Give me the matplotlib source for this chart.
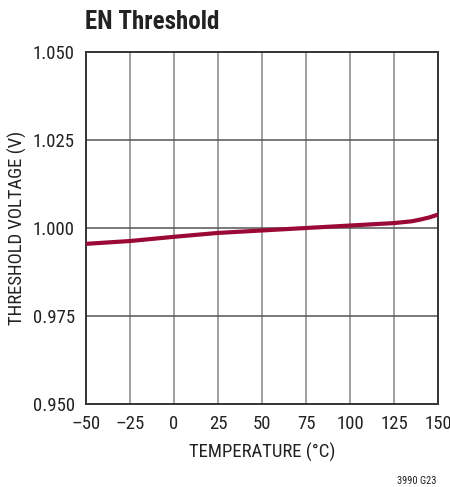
import numpy as np
import matplotlib
matplotlib.use('agg')
import matplotlib.pyplot as plt
from matplotlib import font_manager
from matplotlib.ticker import FuncFormatter

# data
temp = [-50, -25, 0, 25, 50, 75, 100, 125, 135, 140, 145, 150]
vth = [0.9955, 0.9963, 0.9975, 0.9986, 0.9993, 1.0000, 1.0007, 1.0014,
       1.0019, 1.0024, 1.0030, 1.0038]
xticks = [-50, -25, 0, 25, 50, 75, 100, 125, 150]
yticks = [0.950, 0.975, 1.000, 1.025, 1.050]

# pick a condensed sans if one is around
have = set(f.name for f in font_manager.fontManager.ttflist)
fam = 'DejaVu Sans'
for name in ['Roboto Condensed', 'Liberation Sans Narrow', 'Arial Narrow', 'Archivo Narrow',
             'PT Sans Narrow', 'Sofia Sans Condensed', 'Open Sans Condensed']:
    if name in have:
        fam = name
        break
plt.rcParams['font.family'] = [fam, 'DejaVu Sans']

fig = plt.figure(figsize=(4.5, 4.87), dpi=100)
ax = fig.add_axes([86/450, 1-404/487, 352/450, 352/487])

ax.plot(temp, vth, color='#9b0a36', lw=3, solid_capstyle='butt', zorder=3)

ax.set_xlim(-50, 150)
ax.set_ylim(0.950, 1.050)
ax.set_xticks(xticks)
ax.set_yticks(yticks)
ax.xaxis.set_major_formatter(FuncFormatter(lambda v, p: f'{v:.0f}'.replace('-', '\u2013')))
ax.yaxis.set_major_formatter(FuncFormatter(lambda v, p: f'{v:.3f}'))
ax.tick_params(length=0, labelsize=13.5, colors='#222222')
ax.tick_params(axis='x', pad=8)
ax.tick_params(axis='y', pad=8)

for x in xticks[1:-1]:
    ax.axvline(x, color='#999999', lw=1.3, zorder=1)
for y in yticks[1:-1]:
    ax.axhline(y, color='#555555', lw=1.1, zorder=1)
for s in ax.spines.values():
    s.set_color('#333333')
    s.set_linewidth(1.4)

ax.set_xlabel('TEMPERATURE (°C)', fontsize=13.5, color='#222222', labelpad=7)
ax.set_ylabel('THRESHOLD VOLTAGE (V)', fontsize=13.5, color='#222222', labelpad=4)

fig.text(85/450, 1-22/487, 'EN Threshold', fontsize=18, fontweight='bold',
         va='center', ha='left', color='#222222')
fig.text(436/450, 1-481/487, '3990 G23', fontsize=7.5, ha='right', va='center', color='#222222')

fig.savefig('out.png', dpi=100)
